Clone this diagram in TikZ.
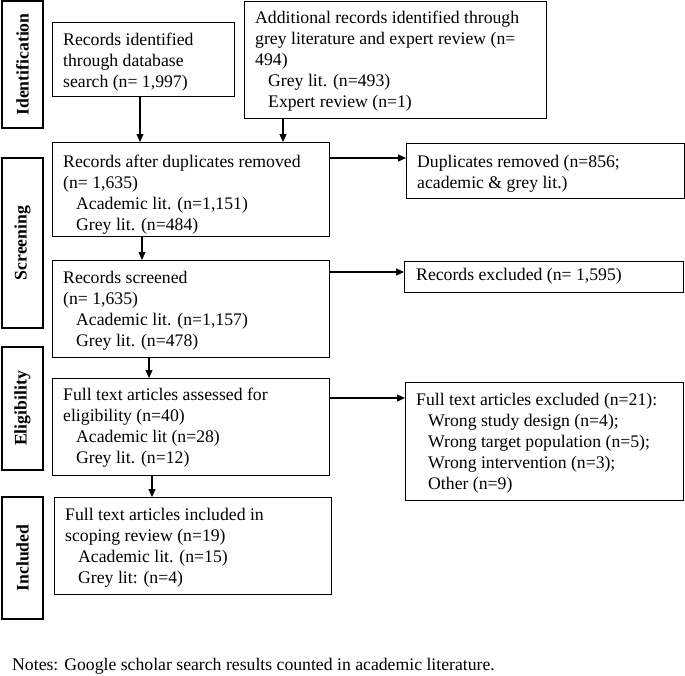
\documentclass[tikz,border=0pt]{standalone}
\usepackage{fontspec}
\setmainfont{Liberation Serif}
\usetikzlibrary{arrows.meta,calc}
\newcommand{\sub}{\hspace*{13pt}}
\newcommand{\tl}[1]{\parbox[t]{290pt}{\raggedright #1}}
\begin{document}
\begin{tikzpicture}[x=1pt,y=-1pt,
  box/.style={draw,line width=1.2pt,rectangle,inner sep=0pt,anchor=north west},
  side/.style={draw,line width=1.2pt,rectangle,rotate=90,inner sep=0pt,minimum height=41pt,font=\fontsize{17.7}{21.2}\selectfont\bfseries},
  txt/.style={anchor=base west,inner sep=0pt,font=\fontsize{17.7}{21.2}\selectfont},
  arr/.style={line width=1.2pt,-{Triangle[length=8pt,width=7pt]}}]
\useasboundingbox (0,0) rectangle (685,675);
% side labels
\node[side,minimum width=127pt] (S1) at (22.5,64.5) {Identification};
\node[side,minimum width=170pt] (S2) at (22.5,243) {Screening};
\node[side,minimum width=123pt] (S3) at (22.5,408.5) {Eligibility};
\node[side,minimum width=122pt] (S4) at (22.5,558) {Included};
% boxes
\node[box,minimum width=182pt,minimum height=74pt] (A) at (52,22) {};
\node[box,minimum width=302pt,minimum height=117pt] (B) at (244,1) {};
\node[box,minimum width=277pt,minimum height=94pt] (C) at (52,142) {};
\node[box,minimum width=278pt,minimum height=55pt] (D) at (406,143) {};
\node[box,minimum width=277pt,minimum height=97pt] (E) at (52,260) {};
\node[box,minimum width=279pt,minimum height=31pt] (F) at (404,261) {};
\node[box,minimum width=277pt,minimum height=97pt] (G) at (52,378) {};
\node[box,minimum width=278pt,minimum height=118pt] (H) at (405,382) {};
\node[box,minimum width=277pt,minimum height=97pt] (I) at (54,497) {};
% texts
\node[txt] (At) at ($(A.north west)+(11,23)$) {\tl{Records identified\\through database\\search (n= 1,997)}};
\node[txt] (Bt) at ($(B.north west)+(11,22)$) {\tl{Additional records identified through\\grey literature and expert review (n=\\494)\\\sub Grey lit. (n=493)\\\sub Expert review (n=1)}};
\node[txt] (Ct) at ($(C.north west)+(11,25)$) {\tl{Records after duplicates removed\\(n= 1,635)\\\sub Academic lit. (n=1,151)\\\sub Grey lit. (n=484)}};
\node[txt] (Dt) at ($(D.north west)+(11,24)$) {\tl{Duplicates removed (n=856;\\academic \& grey lit.)}};
\node[txt] (Et) at ($(E.north west)+(11,23)$) {\tl{Records screened\\(n= 1,635)\\\sub Academic lit. (n=1,157)\\\sub Grey lit. (n=478)}};
\node[txt] (Ft) at ($(F.north west)+(12,19)$) {Records excluded (n= 1,595)};
\node[txt] (Gt) at ($(G.north west)+(11,22)$) {\tl{Full text articles assessed for\\eligibility (n=40)\\\sub Academic lit (n=28)\\\sub Grey lit. (n=12)}};
\node[txt] (Ht) at ($(H.north west)+(11,23)$) {\tl{Full text articles excluded (n=21):\\\hspace*{12pt}Wrong study design (n=4);\\\hspace*{12pt}Wrong target population (n=5);\\\hspace*{12pt}Wrong intervention (n=3);\\\hspace*{12pt}Other (n=9)}};
\node[txt] (It) at ($(I.north west)+(11,23)$) {\tl{Full text articles included in\\scoping review (n=19)\\\sub Academic lit. (n=15)\\\sub Grey lit: (n=4)}};
\node[txt] (N) at (12,670) {Notes: Google scholar search results counted in academic literature.};
% connectors
\coordinate (a1) at ($(A.south west)+(88,0)$);
\draw[arr] (a1) -- (a1 |- C.north);
\coordinate (b1) at ($(B.south west)+(39,0)$);
\draw[arr] (b1) -- (b1 |- C.north);
\coordinate (c1) at ($(C.north east)+(0,16)$);
\draw[arr] (c1) -- (c1 -| D.west);
\coordinate (c2) at ($(C.south west)+(90,0)$);
\draw[arr] (c2) -- (c2 |- E.north);
\coordinate (e1) at ($(E.north east)+(0,12)$);
\draw[arr] (e1) -- (e1 -| F.west);
\coordinate (e2) at ($(E.south west)+(97,0)$);
\draw[arr] (e2) -- (e2 |- G.north);
\coordinate (g1) at ($(G.north east)+(0,20)$);
\draw[arr] (g1) -- (g1 -| H.west);
\coordinate (g2) at ($(G.south west)+(100,0)$);
\draw[arr] (g2) -- (g2 |- I.north);
\end{tikzpicture}
\end{document}
